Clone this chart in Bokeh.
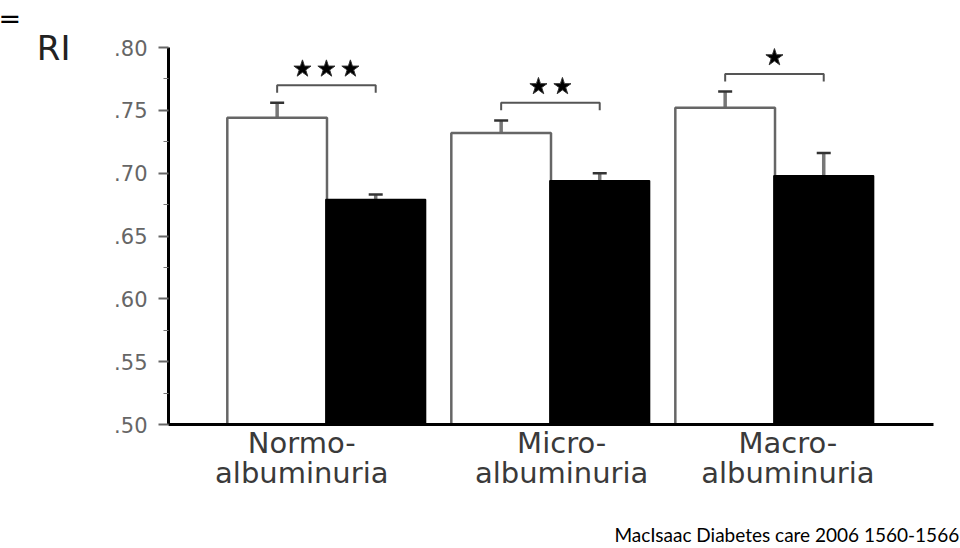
from bokeh.plotting import figure
from bokeh.models import (ColumnDataSource, Range1d, FixedTicker, Whisker, TeeHead,
                          LinearAxis, Title)
from bokeh.embed import file_html
from bokeh.resources import INLINE

# ---- data ----
groups = ["Normo-", "Micro-", "Macro-"]
group_line2 = ["albuminuria", "albuminuria", "albuminuria"]
white_vals = [0.744, 0.732, 0.752]
white_err = [0.012, 0.010, 0.013]
black_vals = [0.679, 0.694, 0.698]
black_err = [0.004, 0.006, 0.018]
significance = ["***", "**", "*"]
y_ticks = [0.50, 0.55, 0.60, 0.65, 0.70, 0.75, 0.80]
y_tick_labels = [".50", ".55", ".60", ".65", ".70", ".75", ".80"]
y_minor = [0.525, 0.575, 0.625, 0.675, 0.725, 0.775]
y_title = "RI"
source_note = "MacIsaac Diabetes care 2006 1560-1566"
corner_mark = "="

# ---- layout / style ----
bar_offset = 0.22
bar_width = 0.445
label_shift = [-0.11, 0.05, 0.06]
note_anchor = 2.067
base = 0.50

gx = list(range(len(groups)))
wx = [g - bar_offset for g in gx]
bx = [g + bar_offset for g in gx]

p = figure(width=960, height=548, output_backend="svg", toolbar_location=None,
           x_range=Range1d(-0.705, 2.710), y_range=Range1d(0.50, 0.80),
           min_border_left=168, min_border_right=27, min_border_top=47,
           min_border_bottom=124)
p.outline_line_color = None
p.xgrid.grid_line_color = None
p.ygrid.grid_line_color = None
p.background_fill_color = "white"
p.border_fill_color = "white"

# bars
p.vbar(x=wx, top=white_vals, bottom=base, width=bar_width, fill_color="white",
       line_color="#666666", line_width=2.5)
p.vbar(x=bx, top=black_vals, bottom=base, width=bar_width, fill_color="black",
       line_color="black", line_width=1.5)

# error bars (upper only)
src_w = ColumnDataSource(dict(x=wx, lower=white_vals,
                              upper=[v + e for v, e in zip(white_vals, white_err)]))
src_b = ColumnDataSource(dict(x=bx, lower=black_vals,
                              upper=[v + e for v, e in zip(black_vals, black_err)]))
for src in (src_w, src_b):
    wk = Whisker(base="x", lower="lower", upper="upper", source=src,
                 lower_head=None,
                 upper_head=TeeHead(size=14, line_width=2.5, line_color="#333333"),
                 line_color="#777777", line_width=3.5)
    p.add_layout(wk)

# significance brackets + stars
leg = 0.006
gap = 0.013
star_spacing = 0.107
bxs, bys, sx, sy = [], [], [], []
for i in gx:
    top = max(white_vals[i] + white_err[i], black_vals[i] + black_err[i])
    by = top + 0.014
    bxs.append([wx[i], wx[i], bx[i], bx[i]])
    bys.append([by - leg, by, by, by - leg])
    n = len(significance[i])
    for k in range(n):
        sx.append(gx[i] + (k - (n - 1) / 2) * star_spacing)
        sy.append(by + gap)
p.multi_line(xs=bxs, ys=bys, line_color="#555555", line_width=2)
p.scatter(x=sx, y=sy, marker="star", size=18, fill_color="black",
          line_color="#333333", line_width=1)

# y axis
p.yaxis.ticker = FixedTicker(ticks=y_ticks, minor_ticks=y_minor)
p.yaxis.major_label_overrides = {t: l for t, l in zip(y_ticks, y_tick_labels)}
p.yaxis.axis_line_color = "black"
p.yaxis.axis_line_width = 3
p.yaxis.major_tick_out = 10
p.yaxis.major_tick_in = 0
p.yaxis.minor_tick_out = 5
p.yaxis.minor_tick_in = 0
p.yaxis.major_tick_line_color = "#666666"
p.yaxis.minor_tick_line_color = "#777777"
p.yaxis.major_tick_line_width = 2
p.yaxis.major_label_standoff = 11
p.yaxis.major_label_text_font = "DejaVu Sans"
p.yaxis.major_label_text_font_size = "21px"
p.yaxis.major_label_text_color = "#666666"

# "RI" as a label at the top of an extra left axis
p.extra_y_ranges = {"ri": Range1d(0.50, 0.80)}
ri_axis = LinearAxis(y_range_name="ri", ticker=FixedTicker(ticks=[y_ticks[-1]]),
                     major_label_overrides={y_ticks[-1]: y_title},
                     axis_line_color=None, major_tick_line_color=None,
                     minor_tick_line_color=None, major_tick_out=0, major_tick_in=0,
                     major_label_standoff=41, major_label_text_font="DejaVu Sans",
                     major_label_text_font_size="34px",
                     major_label_text_color="#222222")
p.add_layout(ri_axis, "left")

# x axis with two-line category labels
label_x = [round(g + s, 3) for g, s in zip(gx, label_shift)]
p.xaxis.ticker = FixedTicker(ticks=label_x)
p.xaxis.major_label_overrides = {x: f"{a}\n{b}" for x, a, b in
                                 zip(label_x, groups, group_line2)}
p.xaxis.axis_line_color = "black"
p.xaxis.axis_line_width = 3
p.xaxis.major_tick_out = 0
p.xaxis.major_tick_in = 0
p.xaxis.major_tick_line_color = None
p.xaxis.minor_tick_line_color = None
p.xaxis.major_label_standoff = 1
p.xaxis.major_label_text_font = "DejaVu Sans"
p.xaxis.major_label_text_font_size = "29px"
p.xaxis.major_label_text_line_height = 0.885
p.xaxis.major_label_text_color = "#3a3a3a"

# source note as a label on a bare extra axis below
note_axis = LinearAxis(ticker=FixedTicker(ticks=[note_anchor]),
                       major_label_overrides={note_anchor: source_note},
                       axis_line_color=None, major_tick_line_color=None,
                       minor_tick_line_color=None, major_tick_out=0, major_tick_in=0,
                       major_label_standoff=30, major_label_text_font="Lato",
                       major_label_text_font_size="19px",
                       major_label_text_color="black")
p.add_layout(note_axis, "below")

# corner mark (a trailing empty line lifts it toward the top edge)
p.add_layout(Title(text=corner_mark + "\n", align="left", offset=-170, standoff=0,
                   vertical_align="top", text_font="DejaVu Sans",
                   text_font_size="27px", text_font_style="normal",
                   text_line_height=0.40, text_color="black"), "above")

open("out.html", "w").write(file_html(p, INLINE))
